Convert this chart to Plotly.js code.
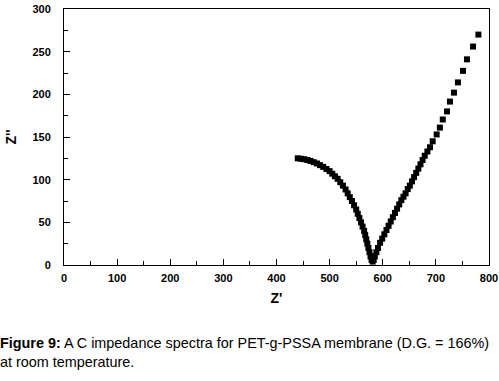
<!DOCTYPE html>
<html>
<head>
<meta charset="utf-8">
<script src="https://cdn.plot.ly/plotly-3.0.1.min.js"></script>
<style>
html,body{margin:0;padding:0;background:#fff;overflow:hidden;}
#wrap{position:relative;width:499px;height:381px;}
#chart{position:absolute;left:0;top:0;width:499px;height:381px;}
#caption{position:absolute;left:0;top:334px;width:499px;font-family:"Liberation Sans", Arial, sans-serif;font-size:14.4px;line-height:18.5px;color:#000;white-space:nowrap;}
</style>
</head>
<body>
<div id="wrap">
<div id="chart"></div>
<div id="caption"><b>Figure 9:</b> A C impedance spectra for PET-g-PSSA membrane (D.G. = 166%)<br>at room temperature.</div>
</div>
<script>
// Z' (real part) values
const zReal = [440,446,452,458,464,470,476,482,488,494,500,505,510,515,520,525,530,534,538,542,546,550,553,556,559,562,565,567,569,571,573,575,577,579,581,583,585,588,591,595,599,603,607,611,615,619,623,627,631,635,639,643,647,651,655,659,663,667,671,675,679,684,689,694,701.5,707.5,713,721,726.5,734,741.5,751,758.5,770,780];
// Z'' (imaginary part) values
const zImag = [125,124.5,124,123,122,120.5,119,117,115,112.5,110,107,104,101,97,93,88.5,84,79.5,75,70,65,60,55,50,45,40,35,30,25,20,15,10,6,4,6,10,15,20,26,31,36,41,46,51,56,61,66,71,76,80,84,89,93,98,103,108,113,118,123,128,133,138,145,153,161,170.5,180,191.5,202,214,227.5,241,256,270];
const xTicks = [0,100,200,300,400,500,600,700,800];
const yTicks = [0,50,100,150,200,250,300];

const fam = '"Liberation Sans", Arial, sans-serif';

const trace = {
  x: zReal, y: zImag, type:'scatter', mode:'markers',
  marker:{symbol:'square', size:6, color:'#000', line:{width:0}},
  hoverinfo:'skip', showlegend:false
};

const layout = {
  width:499, height:381,
  margin:{l:64, r:10, t:9, b:116},
  paper_bgcolor:'rgba(0,0,0,0)', plot_bgcolor:'#fff',
  xaxis:{
    range:[0,800], tickvals:xTicks, ticktext:xTicks.map(String),
    showgrid:false, zeroline:false, showline:true, linecolor:'#000', linewidth:1, mirror:true,
    ticks:'inside', ticklen:6, tickwidth:1, tickcolor:'#000',
    minor:{dtick:50, ticks:'inside', ticklen:4, tickcolor:'#000', showgrid:false},
    tickfont:{family:fam, size:11, color:'#000', weight:'bold'}, ticklabelstandoff:3, ticklabeloverflow:'allow',
    title:{text:"Z'", font:{family:fam, size:14, color:'#000', weight:'bold'}, standoff:9},
    fixedrange:true
  },
  yaxis:{
    range:[0,300], tickvals:yTicks, ticktext:yTicks.map(String),
    showgrid:false, zeroline:false, showline:true, linecolor:'#000', linewidth:1, mirror:true,
    ticks:'inside', ticklen:6, tickwidth:1, tickcolor:'#000',
    minor:{dtick:25, ticks:'inside', ticklen:4, tickcolor:'#000', showgrid:false},
    tickfont:{family:fam, size:11, color:'#000', weight:'bold'}, ticklabelstandoff:10,
    title:{text:"Z''", font:{family:fam, size:14, color:'#000', weight:'bold'}, standoff:12},
    fixedrange:true
  }
};

Plotly.newPlot('chart', [trace], layout, {staticPlot:true, displayModeBar:false});
</script>
</body>
</html>
